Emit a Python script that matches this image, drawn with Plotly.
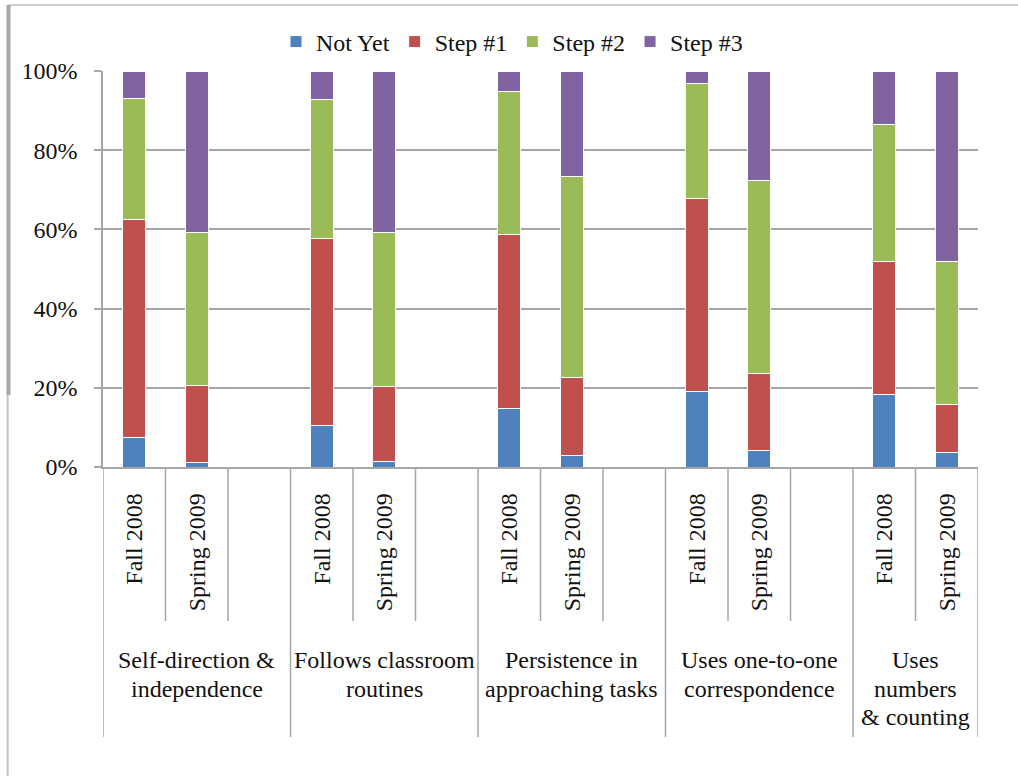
import plotly.graph_objects as go

# Skill areas (each gets two assessment periods plus a spacer slot)
skills = [
    "Self-direction &<br>independence",
    "Follows classroom<br>routines",
    "Persistence in<br>approaching tasks",
    "Uses one-to-one<br>correspondence",
    "Uses<br>numbers<br>& counting",
]
periods = ["Fall 2008", "Spring 2009"]

# Percent of children at each step, ordered skill by skill: Fall 2008, Spring 2009
not_yet = [7.4, 1.2, 10.5, 1.3, 14.8, 2.9, 19.0, 4.1, 18.4, 3.7]
step1 = [55.0, 19.5, 47.1, 19.0, 43.8, 19.7, 48.9, 19.6, 33.5, 12.1]
step2 = [30.7, 38.5, 35.3, 38.8, 36.3, 50.7, 29.0, 48.6, 34.7, 36.1]
step3 = [6.9, 40.8, 7.1, 40.9, 5.1, 26.7, 3.1, 27.7, 13.4, 48.1]

y_ticks = [0, 20, 40, 60, 80, 100]
y_tick_labels = ["0%", "20%", "40%", "60%", "80%", "100%"]

series = [
    ("Not Yet", not_yet, "#4F81BD"),
    ("Step #1", step1, "#C0504D"),
    ("Step #2", step2, "#9BBB59"),
    ("Step #3", step3, "#8064A2"),
]

FONT = "Liberation Serif, Times New Roman, Times, serif"
FS = 24
AX = "#a6a6a6"
TXT = "#111111"

# slot layout: three slots per skill (last skill has no trailing spacer)
slot_x = []
tick_text = []
for g in range(len(skills)):
    for p, name in enumerate(periods):
        slot_x.append(g * 3 + p + 0.5)
        tick_text.append(name)
n_slots = 3 * len(skills) - 1

fig = go.Figure()
for name, vals, color in series:
    fig.add_trace(go.Bar(
        x=slot_x, y=vals, name=name, width=0.37,
        marker=dict(color=color, line=dict(color="white", width=1)),
    ))

PLOT_H = 396.0
LEFT, RIGHT, TOP = 103, 40, 71


def py(px):
    return (467 - px) / PLOT_H


shapes = []
# slot dividers below the axis
for b in range(n_slots + 1):
    major = (b % 3 == 0) or b == n_slots
    shapes.append(dict(
        type="line", xref="x", yref="paper", x0=b, x1=b,
        y0=0, y1=py(737 if major else 621),
        line=dict(color=AX, width=1.5),
    ))

# page frame lines
fx = (8.5 - LEFT) / 875.0
shapes.append(dict(type="line", xref="paper", yref="paper",
                   x0=fx, x1=(1018 - LEFT) / 875.0, y0=py(5), y1=py(5),
                   line=dict(color="#cfcfcf", width=2)))
shapes.append(dict(type="line", xref="paper", yref="paper",
                   x0=fx, x1=fx, y0=py(5), y1=py(395),
                   line=dict(color="#a8a8a8", width=4)))
shapes.append(dict(type="line", xref="paper", yref="paper",
                   x0=fx - 0.001, x1=fx - 0.001, y0=py(395), y1=py(776),
                   line=dict(color="#c4c4c4", width=2)))

# skill labels under each group, one annotation per text line
annotations = []
for g, s in enumerate(skills):
    cx = g * 3 + (1.5 if g < len(skills) - 1 else 1.0)
    for i, line in enumerate(s.split("<br>")):
        annotations.append(dict(
            x=cx, y=py(660 + 28.5 * i), xref="x", yref="paper", text=line,
            showarrow=False, xanchor="center", yanchor="middle", align="center",
            font=dict(family=FONT, size=FS, color=TXT),
        ))

fig.update_layout(
    width=1018, height=776,
    margin=dict(l=LEFT, r=RIGHT, t=TOP, b=776 - 467),
    barmode="stack",
    plot_bgcolor="white", paper_bgcolor="white",
    font=dict(family=FONT, size=FS, color=TXT),
    legend=dict(
        orientation="h", x=(512 - LEFT) / 875.0, xanchor="center",
        y=1 + (TOP - 42) / PLOT_H, yanchor="middle",
        font=dict(family=FONT, size=FS, color=TXT),
        itemwidth=30, traceorder="normal",
    ),
    xaxis=dict(
        range=[0, n_slots], tickmode="array", tickvals=slot_x, ticktext=tick_text,
        tickangle=-90, ticks="", showgrid=False, zeroline=False,
        showline=True, linecolor=AX, linewidth=1.5,
        ticklabelstandoff=15, tickfont=dict(family=FONT, size=FS, color=TXT),
    ),
    yaxis=dict(
        range=[0, 100], tickmode="array", tickvals=y_ticks, ticktext=y_tick_labels,
        ticks="outside", ticklen=7, tickcolor=AX, tickwidth=1.5,
        showgrid=True, gridcolor=AX, gridwidth=1.5, zeroline=False,
        showline=True, linecolor=AX, linewidth=1.5,
        ticklabelstandoff=12, tickfont=dict(family=FONT, size=FS, color=TXT),
    ),
    shapes=shapes,
    annotations=annotations,
)

fig.write_html("out.html")
